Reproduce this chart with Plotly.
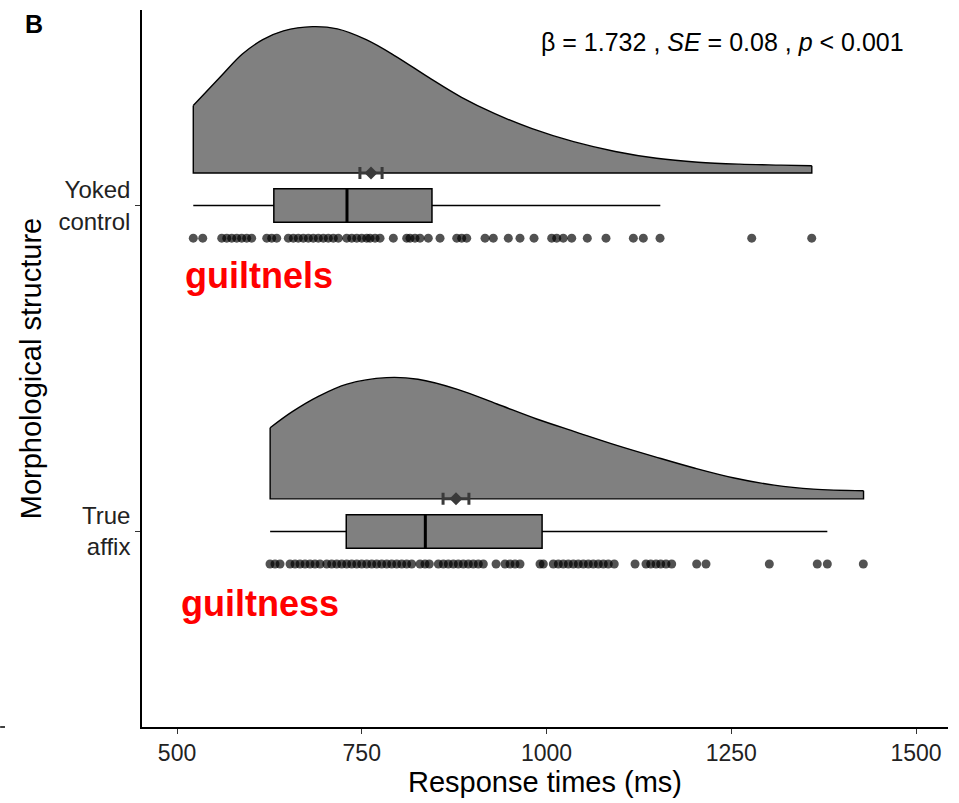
import plotly.graph_objects as go

# ---------------- data ----------------
categories = ["True affix", "Yoked control"]
cat_pos = [1, 2]
tick_text = ["True<br>affix", "Yoked<br>control"]

# half-violin density outlines (x in ms, height in axis units)
yoked_dens_x = [522, 560, 588, 616, 644, 683.5, 717, 756, 796, 840.5, 885, 930, 980.5,
                1036.6, 1093, 1149, 1205, 1261, 1317, 1359]
yoked_dens_h = [0.207, 0.298, 0.364, 0.409, 0.436, 0.449, 0.442, 0.409, 0.358, 0.293, 0.232,
                0.182, 0.136, 0.096, 0.066, 0.045, 0.033, 0.027, 0.024, 0.022]
true_dens_x = [626, 655, 692.6, 730, 783.5, 826, 879.6, 933, 986.7, 1040, 1094, 1147, 1201,
               1254, 1308, 1361, 1429]
true_dens_h = [0.218, 0.266, 0.316, 0.352, 0.372, 0.367, 0.336, 0.291, 0.245, 0.205, 0.165,
               0.129, 0.094, 0.064, 0.042, 0.030, 0.025]

# box statistics: lower whisker, q1, median, q3, upper whisker
yoked_box = [522, 631, 730, 845, 1154]
true_box = [626, 729, 836, 994, 1380]

# means and CI half-widths
yoked_mean, yoked_ci = 762.5, 15
true_mean, true_ci = 877.5, 17.5

# raw item response times (dots)
yoked_rt = [522, 534.8, 560.5, 567.3, 574, 580.8, 587.5, 594.3, 601, 621.4, 628.1, 634.9,
            650.6, 657.4, 664.1, 670.9, 677.7, 684.4, 691.2, 698, 704.7, 711.5, 718.3, 729.6,
            736.4, 743.2, 749.9, 756.7, 761.2, 768, 774.7, 792.7, 810.8, 815.3, 822, 828.8,
            840, 855.9, 878.5, 885.2, 892, 916.8, 928, 948.3, 964.1, 983.1, 1007, 1013.8,
            1022.7, 1034.1, 1055.2, 1080.5, 1117.5, 1131, 1153.6, 1277.7, 1358.9]
true_rt = [625.8, 632.6, 639.4, 652.9, 659.7, 666.4, 673.2, 680, 686.7, 693.5, 702.6, 709.3,
           716.1, 722.9, 729.6, 736.4, 743.2, 749.9, 756.7, 763.5, 770.2, 777, 783.8, 790.5,
           797.3, 804.1, 810.8, 817.6, 828.8, 835.6, 841.4, 853.6, 860.4, 867.1, 873.9, 880.6,
           887.4, 894.2, 900.9, 907.7, 914.5, 931.7, 943.8, 950.6, 957.4, 964.1, 991.2, 995.7,
           1009.2, 1016, 1022.7, 1029.5, 1036.3, 1043, 1049.8, 1056.6, 1063.3, 1070.1, 1076.9,
           1083.6, 1091.7, 1119.8, 1134.6, 1141, 1148.2, 1154.5, 1161.7, 1169.4, 1203.2,
           1215.8, 1301.5, 1366.4, 1380, 1428.7]

words = ["guiltness", "guiltnels"]
stats_text = "β = 1.732 , <i>SE</i> = 0.08 , <i>p</i> < 0.001"

# ---------------- styling ----------------
FONT = "Liberation Sans, Arial, sans-serif"
GRAY = "#808080"
DENS_OFF = 0.10
DOT_OFF = -0.10
BOX_W = 0.103

fig = go.Figure()

groups = [
    (1, true_dens_x, true_dens_h, true_box, true_mean, true_ci, true_rt),
    (2, yoked_dens_x, yoked_dens_h, yoked_box, yoked_mean, yoked_ci, yoked_rt),
]

for c, dx, dh, box, m, ci, rts in groups:
    base = c + DENS_OFF
    # baseline (fill reference)
    fig.add_trace(go.Scatter(x=dx, y=[base] * len(dx), mode="lines",
                             line=dict(width=0, color="rgba(0,0,0,0)"),
                             hoverinfo="skip", showlegend=False))
    # smooth density curve filled down to the baseline
    fig.add_trace(go.Scatter(x=dx, y=[base + h for h in dh], mode="lines", fill="tonexty",
                             fillcolor=GRAY, line=dict(color="black", width=1.4, shape="spline",
                                                       smoothing=1.0),
                             hoverinfo="skip", showlegend=False))
    # straight sides and baseline of the half-violin
    fig.add_trace(go.Scatter(x=[dx[0], dx[0], dx[-1], dx[-1]],
                             y=[base + dh[0], base, base, base + dh[-1]], mode="lines",
                             line=dict(color="black", width=1.4), hoverinfo="skip",
                             showlegend=False))
    # box
    fig.add_trace(go.Box(y=[c], q1=[box[1]], median=[box[2]], q3=[box[3]],
                         lowerfence=[box[0]], upperfence=[box[4]], orientation="h",
                         width=BOX_W, fillcolor=GRAY, line=dict(color="black", width=1.5),
                         whiskerwidth=0, boxpoints=False, hoverinfo="skip",
                         showlegend=False))
    # thick median
    fig.add_trace(go.Scatter(x=[box[2], box[2]], y=[c - BOX_W / 2, c + BOX_W / 2],
                             mode="lines", line=dict(color="black", width=3),
                             hoverinfo="skip", showlegend=False))
    # dots
    fig.add_trace(go.Scatter(x=rts, y=[c + DOT_OFF] * len(rts), mode="markers",
                             marker=dict(size=9, color="rgba(0,0,0,0.68)", line=dict(width=0)),
                             hoverinfo="skip", showlegend=False))
    # mean + CI
    fig.add_trace(go.Scatter(x=[m], y=[base], mode="markers",
                             marker=dict(symbol="diamond", size=10, color="#3a3a3a"),
                             error_x=dict(type="data", array=[ci], color="#3a3a3a",
                                          thickness=3, width=6),
                             hoverinfo="skip", showlegend=False))

fig.add_annotation(x=1238, y=2.503, xref="x", yref="y", text=stats_text, showarrow=False,
                   font=dict(family=FONT, size=25, color="black"), xanchor="center")
fig.add_annotation(x=611, y=1.785, xref="x", yref="y", text="<b>" + words[1] + "</b>",
                   showarrow=False, font=dict(family=FONT, size=36, color="#ff0000"),
                   xanchor="center")
fig.add_annotation(x=612, y=0.779, xref="x", yref="y", text="<b>" + words[0] + "</b>",
                   showarrow=False, font=dict(family=FONT, size=36, color="#ff0000"),
                   xanchor="center")
fig.add_annotation(x=-0.134, y=1.003, xref="paper", yref="paper", text="<b>B</b>",
                   showarrow=False, font=dict(family=FONT, size=25, color="black"),
                   xanchor="center", yanchor="top")

# stray tick from neighbouring panel
fig.add_shape(type="line", xref="paper", yref="paper", x0=-0.176, x1=-0.170, y0=0, y1=0,
              line=dict(color="black", width=1.5))

fig.update_layout(
    width=959, height=803,
    margin=dict(l=142, r=11, t=10, b=68),
    paper_bgcolor="white", plot_bgcolor="white",
    font=dict(family=FONT, color="black"),
    showlegend=False,
)
fig.update_xaxes(range=[452.6, 1543.3], tickvals=[500, 750, 1000, 1250, 1500],
                 ticks="outside", ticklen=5, tickwidth=1.2, tickcolor="#333",
                 showline=True, linecolor="black", linewidth=1.5, showgrid=False,
                 zeroline=False, tickfont=dict(size=23, color="#222"),
                 title=dict(text="Response times (ms)", font=dict(size=29), standoff=6))
fig.update_yaxes(range=[0.4, 2.6], tickvals=cat_pos, ticktext=tick_text,
                 ticks="outside", ticklen=5, tickwidth=1.2, tickcolor="#333",
                 showline=True, linecolor="black", linewidth=1.5, showgrid=False,
                 zeroline=False, tickfont=dict(size=24, color="#222"),
                 title=dict(text="Morphological structure", font=dict(size=29), standoff=8))

fig.write_html("out.html")
